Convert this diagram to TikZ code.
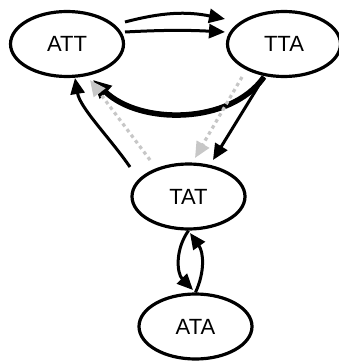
\documentclass[tikz,border=0pt]{standalone}
\usepackage{fontspec}
\setmainfont{Liberation Sans}
\usetikzlibrary{shapes.geometric,arrows.meta}

\begin{document}
\begin{tikzpicture}[x=1pt,y=-1pt,
    state/.style={ellipse, draw, line width=3.2pt, minimum width=113pt, minimum height=65pt, inner sep=0pt, font=\fontsize{22}{24}\selectfont},
    flow/.style={line width=3pt, -{Triangle[length=16pt,width=14pt]}},
    heavyflow/.style={line width=5.5pt, -{Triangle[length=18pt,width=17pt]}},
    faintflow/.style={flow, black!22, line width=3.2pt, dash pattern=on 3.5pt off 3.5pt}]
    \useasboundingbox (0,0) rectangle (338,361);
    % states
    \node[state] (att) at (67,44) {ATT};
    \node[state] (tta) at (284,44) {TTA};
    \node[state] (tat) at (188.5,196.5) {TAT};
    \node[state] (ata) at (195.5,326.5) {ATA};
    % ATT -> TTA
    \draw[flow] ([shift={(58,-22)}]att.center) to[bend left=13] ([shift={(-59,-25)}]tta.center);
    \draw[flow] ([shift={(58,-12)}]att.center) to[bend left=3] ([shift={(-59,-12)}]tta.center);
    % TTA -> ATT, TTA -> TAT
    \draw[heavyflow] ([shift={(-20,33)}]tta.center) .. controls +(-34,48) and +(47,45) .. ([shift={(26,36)}]att.center);
    \draw[flow] ([shift={(-20,33)}]tta.center) -- ([shift={(24.5,-36.5)}]tat.center);
    \draw[faintflow] ([shift={(-42,33)}]tta.center) -- ([shift={(6.5,-38.5)}]tat.center);
    % TAT -> ATT
    \draw[flow] ([shift={(-58.5,-29.5)}]tat.center) .. controls +(-20,-29) and +(5,30) .. ([shift={(8,34)}]att.center);
    \draw[faintflow] ([shift={(-38.5,-36.5)}]tat.center) -- ([shift={(23,36)}]att.center);
    % TAT <-> ATA
    \draw[flow] (tat.south) to[bend right=40] ([shift={(-2.5,-36.5)}]ata.center);
    \draw[flow] (ata.north) to[bend right=30] ([shift={(1.5,36.5)}]tat.center);
\end{tikzpicture}
\end{document}
